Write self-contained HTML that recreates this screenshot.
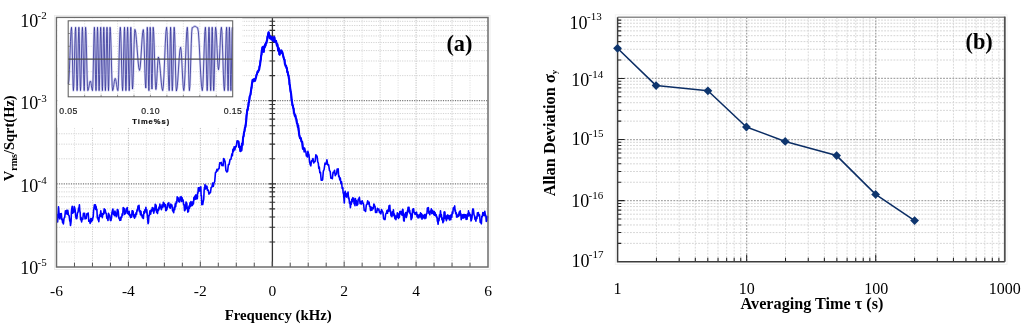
<!DOCTYPE html>
<html><head><meta charset="utf-8"><title>Figure</title>
<style>html,body{margin:0;padding:0;background:#fff;width:1024px;height:325px;overflow:hidden}svg{display:block;will-change:transform}</style>
</head><body>
<svg width="1024" height="325" viewBox="0 0 1024 325">
<rect width="1024" height="325" fill="#fff"/>
<rect x="54.5" y="15.5" width="435.5" height="254" fill="none" stroke="#ececec" stroke-width="1"/>
<path d="M128.42 17.5V267M200.33 17.5V267M344.17 17.5V267M416.08 17.5V267" stroke="#bcbcbc" stroke-width="1" stroke-dasharray="1.2 1.2" fill="none"/>
<path d="M92.46 17.5V267M164.38 17.5V267M236.29 17.5V267M308.21 17.5V267M380.12 17.5V267M452.04 17.5V267" stroke="#cecece" stroke-width="1" stroke-dasharray="1.2 1.2" fill="none"/>
<path d="M74.48 17.5V267M110.44 17.5V267M146.4 17.5V267M182.35 17.5V267M218.31 17.5V267M254.27 17.5V267M290.23 17.5V267M326.19 17.5V267M362.15 17.5V267M398.1 17.5V267M434.06 17.5V267M470.02 17.5V267" stroke="#e0e0e0" stroke-width="1" stroke-dasharray="1.2 1.2" fill="none"/>
<path d="M56.5 75.63H488M56.5 60.99H488M56.5 50.6H488M56.5 42.54H488M56.5 35.95H488M56.5 30.38H488M56.5 25.56H488M56.5 21.31H488M56.5 158.8H488M56.5 144.15H488M56.5 133.76H488M56.5 125.7H488M56.5 119.12H488M56.5 113.55H488M56.5 108.73H488M56.5 104.47H488M56.5 241.96H488M56.5 227.32H488M56.5 216.93H488M56.5 208.87H488M56.5 202.28H488M56.5 196.72H488M56.5 191.89H488M56.5 187.64H488" stroke="#d3d3d3" stroke-width="1" stroke-dasharray="1.2 1.2" fill="none"/>
<path d="M56.5 100.67H488M56.5 183.83H488" stroke="#7a7a7a" stroke-width="1.4" stroke-dasharray="1.2 1.2" fill="none"/>
<path d="M272.4 17.5V267" stroke="#333" stroke-width="1.3"/>
<path d="M269.4 75.63H275M269.4 60.99H275M269.4 50.6H275M269.4 42.54H275M269.4 35.95H275M269.4 30.38H275M269.4 25.56H275M269.4 21.31H275M269.4 158.8H275M269.4 144.15H275M269.4 133.76H275M269.4 125.7H275M269.4 119.12H275M269.4 113.55H275M269.4 108.73H275M269.4 104.47H275M269.4 241.96H275M269.4 227.32H275M269.4 216.93H275M269.4 208.87H275M269.4 202.28H275M269.4 196.72H275M269.4 191.89H275M269.4 187.64H275M268.9 17.5H275.9M268.9 100.67H275.9M268.9 183.83H275.9" stroke="#333" stroke-width="1.1"/>
<path d="M74.48 267v-4.3M92.46 267v-4.3M110.44 267v-4.3M128.42 267v-5.5M146.4 267v-4.3M164.38 267v-4.3M182.35 267v-4.3M200.33 267v-5.5M218.31 267v-4.3M236.29 267v-4.3M254.27 267v-4.3M272.25 267v-5.5M290.23 267v-4.3M308.21 267v-4.3M326.19 267v-4.3M344.17 267v-5.5M362.15 267v-4.3M380.12 267v-4.3M398.1 267v-4.3M416.08 267v-5.5M434.06 267v-4.3M452.04 267v-4.3M470.02 267v-4.3" stroke="#555" stroke-width="1"/>
<path d="M56.5 214.5 L57 214.7 L57.6 222 L58.5 206.9 L59.4 217.7 L59.9 218.84 L60.4 213.82 L60.9 215.2 L61.33 213.44 L61.77 219.74 L62.2 219 L62.6 222.76 L63 220.06 L63.4 224 L64.07 218.23 L64.73 217.31 L65.4 210.8 L66.3 213.7 L66.8 210.2 L67.3 214.17 L67.8 210.3 L68.47 215.07 L69.13 215.86 L69.8 221.1 L70.13 220.77 L70.47 225.54 L70.8 223.6 L71.1 221.18 L71.4 212.68 L71.7 208.8 L72.2 206.31 L72.7 213.25 L73.2 210.8 L73.7 212.22 L74.2 206.46 L74.7 207.8 L75.2 210.12 L75.7 216.06 L76.2 218.7 L76.83 218.54 L77.47 213.01 L78.1 211.8 L78.53 208.11 L78.97 208.7 L79.4 204.9 L79.8 210.86 L80.2 212.77 L80.6 219.7 L81.1 217.42 L81.6 221.88 L82.1 218.7 L82.77 219.32 L83.43 213.31 L84.1 214.2 L84.57 213.29 L85.03 218.98 L85.5 217.7 L86.17 218.52 L86.83 213.78 L87.5 214.2 L88.17 212.97 L88.83 221.32 L89.5 220.1 L90.13 223.44 L90.77 218.55 L91.4 221.6 L91.9 218.63 L92.4 220.47 L92.9 217.7 L93.23 216.34 L93.57 210.65 L93.9 208.8 L94.4 204.82 L94.9 208.06 L95.4 204.9 L95.73 209.39 L96.07 206.34 L96.4 209.8 L96.87 209.33 L97.33 217.92 L97.8 217.7 L98.13 219.96 L98.47 218.87 L98.8 221.6 L99.47 215 L100.13 216.41 L100.8 210.8 L101.3 216.26 L101.8 213.55 L102.3 217.7 L102.93 213.61 L103.57 214.14 L104.2 208.8 L104.7 212.84 L105.2 209.9 L105.7 212.8 L106.3 213.58 L106.9 218.37 L107.5 218.6 L108 220.42 L108.5 213.34 L109 214.7 L109.63 215.44 L110.27 220.15 L110.9 220.6 L111.4 218.52 L111.9 212.97 L112.4 210.8 L112.9 209.02 L113.4 214.09 L113.9 213.7 L114.4 215.58 L114.9 211.07 L115.4 212.7 L116.3 216.7 L116.8 215.79 L117.3 209.5 L117.8 209.8 L118.3 211.48 L118.8 218.07 L119.3 218.6 L119.8 220.32 L120.3 217.7 L120.8 220.1 L121.27 216.53 L121.73 217.4 L122.2 213.7 L122.7 215.2 L123.2 207.67 L123.7 208.8 L124.2 208.46 L124.7 214.34 L125.2 212.7 L125.7 213.17 L126.2 208.92 L126.7 209.8 L127.17 207.56 L127.63 213.46 L128.1 211.7 L128.6 214.22 L129.1 211.19 L129.6 215.7 L130.1 214.43 L130.6 217.57 L131.1 216.2 L131.6 217.09 L132.1 210.9 L132.6 210.8 L133.1 211.31 L133.6 216.19 L134.1 217.2 L134.57 218.2 L135.03 214.6 L135.5 216.7 L136 212.9 L136.5 214.41 L137 209.8 L137.5 210.76 L138 206.16 L138.5 207.3 L139 205.36 L139.5 211.68 L140 210.8 L140.47 214.68 L140.93 211.17 L141.4 215.7 L141.9 214.66 L142.4 217.67 L142.9 216.7 L143.4 218.53 L143.9 211.57 L144.4 213.2 L144.9 209.71 L145.4 210.65 L145.9 207.3 L146.37 212.72 L146.83 209.83 L147.3 215.7 L148.1 223.6 L148.5 222.37 L148.9 215.25 L149.3 215.7 L149.97 210.8 L150.63 214.08 L151.3 209.8 L151.8 211.2 L152.3 207.61 L152.8 208.3 L153.27 208.09 L153.73 213.08 L154.2 210.8 L154.7 210.33 L155.2 204.33 L155.7 204.9 L156.13 205.56 L156.57 212.11 L157 211.5 L157.5 213.46 L158 209.22 L158.5 210.5 L158.97 207.01 L159.43 208.81 L159.9 204.1 L160.4 207.05 L160.9 206.3 L161.4 209.6 L162.07 204.92 L162.73 207.54 L163.4 202.2 L163.9 206 L164.4 203.55 L164.9 206.6 L165.37 204.89 L165.83 210.62 L166.3 210.5 L166.97 209.06 L167.63 204.07 L168.3 203.2 L168.8 202.71 L169.3 207.23 L169.8 207.6 L170.3 208.12 L170.8 204.15 L171.3 205.1 L171.93 204.99 L172.57 210.62 L173.2 211.5 L173.7 212.64 L174.2 207.28 L174.7 209.6 L175.2 203.81 L175.7 206.76 L176.2 201.7 L176.7 202.88 L177.2 196.76 L177.7 197.7 L178.17 197.76 L178.63 201.41 L179.1 201.7 L179.6 202.03 L180.1 197.37 L180.6 199.7 L181.1 196.5 L181.6 201.48 L182.1 197.7 L182.6 201.01 L183.1 199.91 L183.6 204.6 L184.07 204.36 L184.53 210.8 L185 210 L185.5 209.24 L186 201.93 L186.5 202.7 L186.83 203.54 L187.17 208.82 L187.5 208.6 L187.83 212.18 L188.17 207.56 L188.5 211.5 L189 205.96 L189.5 208.17 L190 202.7 L190.47 206.4 L190.93 201.62 L191.4 205.6 L191.9 202.55 L192.4 205.49 L192.9 201.7 L193.4 204.01 L193.9 197.46 L194.4 199.7 L194.9 196.17 L195.4 199.16 L195.9 194.8 L196.37 198.99 L196.83 195.16 L197.3 198.7 L197.63 192.74 L197.97 193.32 L198.3 187.9 L198.8 191.17 L199.3 187.58 L199.8 190.9 L200.13 188.43 L200.47 190.63 L200.8 186.9 L201.13 195.99 L201.47 195.77 L201.8 204.6 L202.27 201.04 L202.73 204.5 L203.2 201.7 L203.7 199.37 L204.2 189.57 L204.7 186.9 L205.03 184.62 L205.37 189.07 L205.7 185.9 L206.3 188.51 L206.9 186.19 L207.5 190.3 L208.23 190.01 L208.97 194.07 L209.7 192.5 L210.43 192.74 L211.17 187.42 L211.9 187.1 L212.6 183.14 L213.3 186.31 L214 182.8 L214.73 181.54 L215.47 172.58 L216.2 172 L216.9 169.4 L217.6 170.85 L218.3 168.8 L219.03 168.63 L219.77 162.72 L220.5 163.4 L221.2 162.35 L221.9 165.47 L222.6 164.5 L223.1 165.69 L223.6 158.46 L224.1 159.1 L225.03 161.45 L225.97 170.66 L226.9 172 L227.63 171.19 L228.37 164.55 L229.1 164.5 L230.03 159.5 L230.97 159.23 L231.9 153.7 L232.4 155.77 L232.9 149.29 L233.4 151.6 L234.13 146.87 L234.87 149.82 L235.6 146.2 L236.3 146.67 L237 140.93 L237.7 140.8 L238.43 141.67 L239.17 147.14 L239.9 147.2 L240.4 151.14 L240.9 146.54 L241.4 150.5 L241.97 143.61 L242.53 144.92 L243.1 137.5 L243.57 136.12 L244.03 132.5 L244.5 131 L244.93 127.65 L245.37 127.05 L245.8 123.9 L246.17 121.02 L246.53 115.76 L246.9 113.1 L247.27 109.89 L247.63 110.07 L248 107 L248.33 106.27 L248.67 102.45 L249 102.3 L249.73 96.42 L250.47 94.69 L251.2 89.4 L251.57 87.5 L251.93 83.95 L252.3 82 L252.63 79.78 L252.97 80.99 L253.3 79.7 L253.7 81.24 L254.1 79.11 L254.5 80.5 L254.83 79.04 L255.17 80.6 L255.5 78.6 L256 77.57 L256.5 74.9 L257 74 L257.57 71.68 L258.13 71.84 L258.7 70 L259.13 69.88 L259.57 66.19 L260 65.4 L260.4 61.46 L260.8 59.33 L261.2 55.5 L261.5 54.65 L261.8 50.45 L262.1 49.4 L262.43 47.38 L262.77 48.95 L263.1 46.9 L263.7 51.8 L264.3 46.3 L264.7 47.48 L265.1 44.35 L265.5 45.7 L265.93 42.82 L266.37 43.14 L266.8 40.8 L267.13 40.15 L267.47 36.79 L267.8 35.8 L268.6 32.2 L269.2 34.6 L269.8 38.3 L270.5 36.5 L271.4 39.5 L271.7 39.39 L272 37.29 L272.3 37.7 L273.2 40.8 L273.53 40.85 L273.87 37.65 L274.2 37.1 L274.5 37.95 L274.8 41.23 L275.1 42 L276 40.8 L276.6 43.8 L276.93 45.69 L277.27 44 L277.6 45.7 L278.2 50.6 L278.8 48.2 L279.4 54.3 L279.7 54.63 L280 51.31 L280.3 51.8 L280.7 50.48 L281.1 52.37 L281.5 50.6 L281.83 52.93 L282.17 51.69 L282.5 53.1 L283.4 56.8 L284.2 59.8 L284.53 59.74 L284.87 64.02 L285.2 64.2 L285.63 66.09 L286.07 65.75 L286.5 68 L286.9 68.12 L287.3 72.1 L287.7 71.9 L288.1 75.04 L288.5 75.25 L288.9 78.6 L289.2 79.27 L289.5 84.24 L289.8 85 L290.6 91.6 L291.1 93.63 L291.6 99.73 L292.1 102.3 L292.47 105.41 L292.83 105.39 L293.2 108 L293.57 108.41 L293.93 112.8 L294.3 113.1 L294.8 115.93 L295.3 115.08 L295.8 118 L296.37 119.25 L296.93 123.42 L297.5 123.9 L297.83 127.18 L298.17 125.73 L298.5 129 L299.3 135 L300.03 138.25 L300.77 137.97 L301.5 141.5 L302.2 141.96 L302.9 148.77 L303.6 147.9 L304.17 151.88 L304.73 148.36 L305.3 151.2 L305.83 151.49 L306.37 156.01 L306.9 155.5 L307.4 156.96 L307.9 151.35 L308.4 153.3 L308.97 154.85 L309.53 161.52 L310.1 164.1 L310.8 165.81 L311.5 160.86 L312.2 160.9 L312.93 158.48 L313.67 162.91 L314.4 161.9 L315.13 161.48 L315.87 154.91 L316.6 155.5 L317.17 156.73 L317.73 161.79 L318.3 163 L318.8 168.35 L319.3 166.89 L319.8 172.7 L320.5 172.39 L321.2 180.27 L321.9 180.3 L322.63 179.78 L323.37 171.04 L324.1 169.5 L325.03 163.18 L325.97 164.19 L326.9 159.8 L327.77 164.86 L328.63 164.86 L329.5 170.6 L330.2 171.49 L330.9 178.19 L331.6 178.1 L332.33 178.69 L333.07 172.37 L333.8 172.7 L334.53 170.22 L335.27 175.65 L336 173.8 L336.57 174.02 L337.13 169.12 L337.7 169.5 L338.2 168.81 L338.7 176.81 L339.2 176 L339.77 179.93 L340.33 178.13 L340.9 183.5 L341.53 181.74 L342.17 188.37 L342.8 187.6 L343.17 193.31 L343.53 193.12 L343.9 198 L344.3 202.9 L344.8 192.5 L345.27 191.24 L345.73 196.39 L346.2 195.2 L346.67 197.08 L347.13 193.31 L347.6 193.9 L348.07 192.14 L348.53 198.75 L349 198 L349.47 203.09 L349.93 201.71 L350.4 207.7 L350.87 202.71 L351.33 204.23 L351.8 199.4 L352.27 201.67 L352.73 197.83 L353.2 198.7 L353.63 198.13 L354.07 203.79 L354.5 203.5 L354.97 205.7 L355.43 198.67 L355.9 200.8 L356.37 200.6 L356.83 205.55 L357.3 204.9 L357.77 204.31 L358.23 199.3 L358.7 199.4 L359.4 197.31 L360.1 203.78 L360.8 201.5 L361.5 203.99 L362.2 200.76 L362.9 202.9 L363.57 204.04 L364.23 210.31 L364.9 210.5 L365.6 211.43 L366.3 205.05 L367 204.2 L367.7 200.83 L368.4 203.88 L369.1 202.2 L369.57 206.36 L370.03 206.26 L370.5 210.5 L371.17 207.07 L371.83 210.31 L372.5 207.7 L373.2 208.76 L373.9 203.95 L374.6 205.6 L375.07 206.51 L375.53 212.4 L376 211.9 L376.7 212.44 L377.4 208.4 L378.1 209.8 L378.8 208.98 L379.5 212.6 L380.2 211.9 L380.87 213.81 L381.53 209.49 L382.2 211.2 L382.9 212.17 L383.6 218.62 L384.3 219.5 L385 219.55 L385.7 213.98 L386.4 213.2 L386.93 210.65 L387.47 213.31 L388 209.8 L388.5 211.22 L389 205.72 L389.5 206.9 L389.83 205.33 L390.17 211.83 L390.5 210.8 L390.97 215.65 L391.43 213.25 L391.9 216.7 L392.4 211.78 L392.9 214.88 L393.4 209.8 L393.9 215.75 L394.4 214.07 L394.9 218.7 L395.4 216.03 L395.9 219.73 L396.4 215.7 L396.87 217.32 L397.33 212.84 L397.8 216.2 L398.13 213.75 L398.47 218.46 L398.8 217.7 L399.3 217.4 L399.8 211.51 L400.3 212.3 L400.8 211.23 L401.3 214.41 L401.8 213.7 L402.2 215.22 L402.6 209.2 L403 209.8 L403.7 220.6 L404.2 221.03 L404.7 214.76 L405.2 213.7 L405.7 212.5 L406.2 217.53 L406.7 215.7 L407.03 215.07 L407.37 211.02 L407.7 210.8 L408.13 207.18 L408.57 211.53 L409 207.4 L409.37 212.63 L409.73 210.38 L410.1 213.7 L410.6 213.27 L411.1 219.69 L411.6 218.7 L412.1 217.49 L412.6 209.6 L413.1 208.8 L413.6 208.75 L414.1 212.58 L414.6 212.8 L415.1 214.46 L415.6 212.69 L416.1 214.2 L416.57 212.17 L417.03 216.65 L417.5 214.7 L418 217.93 L418.5 215.41 L419 217.7 L419.5 214.69 L420 215.85 L420.5 212.8 L421 217.78 L421.5 213.89 L422 219.2 L422.47 215 L422.93 218.04 L423.4 215.7 L423.9 217.8 L424.4 214.61 L424.9 218.7 L425.4 215.04 L425.9 218.04 L426.4 213.7 L426.9 213.59 L427.4 208.09 L427.9 208.3 L428.37 207.69 L428.83 213.22 L429.3 212.8 L429.8 214.77 L430.3 211.14 L430.8 211.8 L431.3 208.77 L431.8 213.65 L432.3 210.3 L432.8 213.13 L433.3 211.26 L433.8 214.7 L434.27 211.45 L434.73 215.3 L435.2 212.8 L435.7 215.83 L436.2 214.74 L436.7 217.7 L437.03 216.89 L437.37 221.29 L437.7 221.6 L438.13 224.26 L438.57 218.24 L439 220.7 L439.5 214.86 L440 216.99 L440.5 210.8 L440.97 216.14 L441.43 214.87 L441.9 219.7 L442.4 217.9 L442.9 222.79 L443.4 221.2 L443.73 221.23 L444.07 212.17 L444.4 211.8 L444.9 212.23 L445.4 218.73 L445.9 217.7 L446.4 220.66 L446.9 215.66 L447.4 218.7 L447.87 214.92 L448.33 218.57 L448.8 215.7 L449.47 220 L450.13 215.44 L450.8 219.7 L451.3 214.55 L451.8 217.11 L452.3 211.8 L452.8 213.47 L453.3 207.93 L453.8 208.8 L454.7 205.9 L455.03 211.11 L455.37 210.05 L455.7 213.8 L456.2 212.71 L456.7 217.08 L457.2 215.7 L457.7 216.85 L458.2 214.28 L458.7 216.2 L459.2 212.01 L459.7 214.96 L460.2 210.8 L460.53 215.25 L460.87 213.66 L461.2 219.7 L461.67 215.58 L462.13 218.08 L462.6 214.7 L463.1 218.14 L463.6 214.46 L464.1 217.7 L464.6 214.55 L465.1 217.53 L465.6 214.7 L466.1 219.4 L466.6 215.3 L467.1 219.2 L467.57 213.87 L468.03 216.27 L468.5 210.8 L469 215.59 L469.5 213.06 L470 215.7 L470.5 214.69 L471 220.98 L471.5 219.7 L472 217.6 L472.5 210.57 L473 208.8 L473.5 210.03 L474 214.8 L474.5 215.7 L474.97 219.33 L475.43 218.19 L475.9 221.2 L476.4 216.88 L476.9 218.59 L477.4 212.8 L477.9 215.96 L478.4 212.64 L478.9 215.7 L479.57 214.87 L480.23 222.53 L480.9 222.6 L481.37 223.82 L481.83 216.28 L482.3 216.7 L482.8 212.63 L483.3 215.23 L483.8 212.8 L484.3 215.73 L484.8 211.41 L485.3 214.7 L485.8 215.47 L486.3 221.41 L486.8 220.2 L487.13 220.68 L487.47 216.52 L487.8 217.7" stroke="#0000ff" stroke-width="1.6" fill="none" stroke-linejoin="round"/>
<path d="M238.43 141.67 L239.17 147.14 L239.9 147.2 L240.4 151.14 L240.9 146.54 L241.4 150.5 L241.97 143.61 L242.53 144.92 L243.1 137.5 L243.57 136.12 L244.03 132.5 L244.5 131 L244.93 127.65 L245.37 127.05 L245.8 123.9 L246.17 121.02 L246.53 115.76 L246.9 113.1 L247.27 109.89 L247.63 110.07 L248 107 L248.33 106.27 L248.67 102.45 L249 102.3 L249.73 96.42 L250.47 94.69 L251.2 89.4 L251.57 87.5 L251.93 83.95 L252.3 82 L252.63 79.78 L252.97 80.99 L253.3 79.7 L253.7 81.24 L254.1 79.11 L254.5 80.5 L254.83 79.04 L255.17 80.6 L255.5 78.6 L256 77.57 L256.5 74.9 L257 74 L257.57 71.68 L258.13 71.84 L258.7 70 L259.13 69.88 L259.57 66.19 L260 65.4 L260.4 61.46 L260.8 59.33 L261.2 55.5 L261.5 54.65 L261.8 50.45 L262.1 49.4 L262.43 47.38 L262.77 48.95 L263.1 46.9 L263.7 51.8 L264.3 46.3 L264.7 47.48 L265.1 44.35 L265.5 45.7 L265.93 42.82 L266.37 43.14 L266.8 40.8 L267.13 40.15 L267.47 36.79 L267.8 35.8 L268.6 32.2 L269.2 34.6 L269.8 38.3 L270.5 36.5 L271.4 39.5 L271.7 39.39 L272 37.29 L272.3 37.7 L273.2 40.8 L273.53 40.85 L273.87 37.65 L274.2 37.1 L274.5 37.95 L274.8 41.23 L275.1 42 L276 40.8 L276.6 43.8 L276.93 45.69 L277.27 44 L277.6 45.7 L278.2 50.6 L278.8 48.2 L279.4 54.3 L279.7 54.63 L280 51.31 L280.3 51.8 L280.7 50.48 L281.1 52.37 L281.5 50.6 L281.83 52.93 L282.17 51.69 L282.5 53.1 L283.4 56.8 L284.2 59.8 L284.53 59.74 L284.87 64.02 L285.2 64.2 L285.63 66.09 L286.07 65.75 L286.5 68 L286.9 68.12 L287.3 72.1 L287.7 71.9 L288.1 75.04 L288.5 75.25 L288.9 78.6 L289.2 79.27 L289.5 84.24 L289.8 85 L290.6 91.6 L291.1 93.63 L291.6 99.73 L292.1 102.3 L292.47 105.41 L292.83 105.39 L293.2 108 L293.57 108.41 L293.93 112.8 L294.3 113.1 L294.8 115.93 L295.3 115.08 L295.8 118 L296.37 119.25 L296.93 123.42 L297.5 123.9 L297.83 127.18 L298.17 125.73 L298.5 129 L299.3 135 L300.03 138.25 L300.77 137.97 L301.5 141.5 L302.2 141.96 L302.9 148.77 L303.6 147.9" stroke="#0000ff" stroke-width="2.1" fill="none" stroke-linejoin="round" stroke-linecap="round"/>
<rect x="56.5" y="17.5" width="431.5" height="249.5" fill="none" stroke="#6c6c6c" stroke-width="1.5"/>
<rect x="57.4" y="18.3" width="184.9" height="109.2" fill="#fff"/>
<path d="M84.65 20.8V96.8M101.1 20.8V96.8M117.55 20.8V96.8M134 20.8V96.8M150.45 20.8V96.8M166.9 20.8V96.8M183.35 20.8V96.8M199.8 20.8V96.8M216.25 20.8V96.8M68.2 33.5H232.7M68.2 46.3H232.7M68.2 71.7H232.7M68.2 84.4H232.7" stroke="#d0d0d0" stroke-width="0.8" stroke-dasharray="1 1.5" fill="none"/>
<path d="M68.4 84 L68.92 80.2 L69.43 69.83 L69.95 55.65 L70.47 41.48 L70.98 31.1 L71.5 27.3 L71.82 31.54 L72.13 43.12 L72.45 58.95 L72.77 74.77 L73.08 86.36 L73.4 90.6 L73.77 86.36 L74.13 74.78 L74.5 58.95 L74.87 43.12 L75.23 31.54 L75.6 27.3 L75.85 31.54 L76.1 43.12 L76.35 58.95 L76.6 74.77 L76.85 86.36 L77.1 90.6 L77.4 86.36 L77.7 74.78 L78 58.95 L78.3 43.12 L78.6 31.54 L78.9 27.3 L79.17 31.54 L79.43 43.12 L79.7 58.95 L79.97 74.77 L80.23 86.36 L80.5 90.6 L80.82 86.36 L81.13 74.78 L81.45 58.95 L81.77 43.12 L82.08 31.54 L82.4 27.3 L82.7 31.54 L83 43.12 L83.3 58.95 L83.6 74.77 L83.9 86.36 L84.2 90.6 L84.43 86.36 L84.67 74.78 L84.9 58.95 L85.13 43.12 L85.37 31.54 L85.6 27.3 L85.97 31.54 L86.33 43.12 L86.7 58.95 L87.07 74.77 L87.43 86.36 L87.8 90.6 L88.23 89.96 L88.67 88.2 L89.1 85.8 L89.53 83.4 L89.97 81.64 L90.4 81 L90.75 81.64 L91.1 83.4 L91.45 85.8 L91.8 88.2 L92.15 89.96 L92.5 90.6 L92.82 86.36 L93.13 74.78 L93.45 58.95 L93.77 43.12 L94.08 31.54 L94.4 27.3 L94.67 31.54 L94.93 43.12 L95.2 58.95 L95.47 74.77 L95.73 86.36 L96 90.6 L96.25 86.36 L96.5 74.78 L96.75 58.95 L97 43.12 L97.25 31.54 L97.5 27.3 L97.77 31.54 L98.03 43.12 L98.3 58.95 L98.57 74.77 L98.83 86.36 L99.1 90.6 L99.37 86.36 L99.63 74.78 L99.9 58.95 L100.17 43.12 L100.43 31.54 L100.7 27.3 L100.98 31.54 L101.27 43.12 L101.55 58.95 L101.83 74.77 L102.12 86.36 L102.4 90.6 L102.63 86.36 L102.87 74.78 L103.1 58.95 L103.33 43.12 L103.57 31.54 L103.8 27.3 L104.07 31.54 L104.33 43.12 L104.6 58.95 L104.87 74.77 L105.13 86.36 L105.4 90.6 L105.67 86.36 L105.93 74.78 L106.2 58.95 L106.47 43.12 L106.73 31.54 L107 27.3 L107.25 31.54 L107.5 43.12 L107.75 58.95 L108 74.77 L108.25 86.36 L108.5 90.6 L108.77 86.36 L109.03 74.78 L109.3 58.95 L109.57 43.12 L109.83 31.54 L110.1 27.3 L110.52 31.54 L110.93 43.12 L111.35 58.95 L111.77 74.77 L112.18 86.36 L112.6 90.6 L113.03 89.78 L113.47 87.55 L113.9 84.5 L114.33 81.45 L114.77 79.22 L115.2 78.4 L115.65 79.22 L116.1 81.45 L116.55 84.5 L117 87.55 L117.45 89.78 L117.9 90.6 L118.3 86.36 L118.7 74.78 L119.1 58.95 L119.5 43.12 L119.9 31.54 L120.3 27.3 L120.68 31.54 L121.07 43.12 L121.45 58.95 L121.83 74.77 L122.22 86.36 L122.6 90.6 L122.92 86.36 L123.23 74.78 L123.55 58.95 L123.87 43.12 L124.18 31.54 L124.5 27.3 L124.73 31.54 L124.97 43.12 L125.2 58.95 L125.43 74.77 L125.67 86.36 L125.9 90.6 L126.18 86.36 L126.47 74.78 L126.75 58.95 L127.03 43.12 L127.32 31.54 L127.6 27.3 L127.87 31.54 L128.13 43.12 L128.4 58.95 L128.67 74.77 L128.93 86.36 L129.2 90.6 L129.47 86.36 L129.73 74.78 L130 58.95 L130.27 43.12 L130.53 31.54 L130.8 27.3 L131.08 31.43 L131.37 42.72 L131.65 58.15 L131.93 73.58 L132.22 84.87 L132.5 89 L132.9 85.01 L133.3 74.1 L133.7 59.2 L134.1 44.3 L134.5 33.39 L134.9 29.4 L135.67 32.15 L136.43 39.65 L137.2 49.9 L137.97 60.15 L138.73 67.65 L139.5 70.4 L140.13 67.67 L140.77 60.2 L141.4 50 L142.03 39.8 L142.67 32.33 L143.3 29.6 L143.72 33.51 L144.13 44.2 L144.55 58.8 L144.97 73.4 L145.38 84.09 L145.8 88 L146.05 83.93 L146.3 72.83 L146.55 57.65 L146.8 42.48 L147.05 31.37 L147.3 27.3 L147.57 31.54 L147.83 43.12 L148.1 58.95 L148.37 74.77 L148.63 86.36 L148.9 90.6 L149.12 86.36 L149.33 74.78 L149.55 58.95 L149.77 43.12 L149.98 31.54 L150.2 27.3 L150.5 31.43 L150.8 42.72 L151.1 58.15 L151.4 73.58 L151.7 84.87 L152 89 L152.2 84.87 L152.4 73.58 L152.6 58.15 L152.8 42.73 L153 31.43 L153.2 27.3 L153.65 31.47 L154.1 42.85 L154.55 58.4 L155 73.95 L155.45 85.33 L155.9 89.5 L156.32 87.32 L156.73 81.38 L157.15 73.25 L157.57 65.12 L157.98 59.18 L158.4 57 L159.12 59.25 L159.83 65.4 L160.55 73.8 L161.27 82.2 L161.98 88.35 L162.7 90.6 L163.35 86.36 L164 74.78 L164.65 58.95 L165.3 43.12 L165.95 31.54 L166.6 27.3 L167.03 31.54 L167.47 43.12 L167.9 58.95 L168.33 74.77 L168.77 86.36 L169.2 90.6 L169.43 86.36 L169.67 74.78 L169.9 58.95 L170.13 43.12 L170.37 31.54 L170.6 27.3 L170.88 31.54 L171.17 43.12 L171.45 58.95 L171.73 74.77 L172.02 86.36 L172.3 90.6 L172.62 86.36 L172.93 74.78 L173.25 58.95 L173.57 43.12 L173.88 31.54 L174.2 27.3 L174.57 31.57 L174.93 43.22 L175.3 59.15 L175.67 75.08 L176.03 86.73 L176.4 91 L177.1 88.07 L177.8 80.05 L178.5 69.1 L179.2 58.15 L179.9 50.13 L180.6 47.2 L181.13 50.11 L181.67 58.05 L182.2 68.9 L182.73 79.75 L183.27 87.69 L183.8 90.6 L184.38 86.36 L184.97 74.78 L185.55 58.95 L186.13 43.12 L186.72 31.54 L187.3 27.3 L187.65 31.54 L188 43.12 L188.35 58.95 L188.7 74.77 L189.05 86.36 L189.4 90.6 L189.87 86.38 L190.33 74.85 L190.8 59.1 L191.27 43.35 L191.73 31.82 L192.2 27.6 L192.65 27.51 L193.1 27.28 L193.55 26.95 L194 26.62 L194.45 26.39 L194.9 26.3 L195.35 26.39 L195.8 26.62 L196.25 26.95 L196.7 27.28 L197.15 27.51 L197.6 27.6 L198.38 31.82 L199.17 43.35 L199.95 59.1 L200.73 74.85 L201.52 86.38 L202.3 90.6 L202.82 86.36 L203.33 74.78 L203.85 58.95 L204.37 43.12 L204.88 31.54 L205.4 27.3 L205.7 31.54 L206 43.12 L206.3 58.95 L206.6 74.77 L206.9 86.36 L207.2 90.6 L207.5 86.36 L207.8 74.78 L208.1 58.95 L208.4 43.12 L208.7 31.54 L209 27.3 L209.28 31.54 L209.57 43.12 L209.85 58.95 L210.13 74.77 L210.42 86.36 L210.7 90.6 L210.95 86.36 L211.2 74.78 L211.45 58.95 L211.7 43.12 L211.95 31.54 L212.2 27.3 L212.45 31.54 L212.7 43.12 L212.95 58.95 L213.2 74.77 L213.45 86.36 L213.7 90.6 L214.02 86.36 L214.33 74.78 L214.65 58.95 L214.97 43.12 L215.28 31.54 L215.6 27.3 L216.08 30.14 L216.57 37.9 L217.05 48.5 L217.53 59.1 L218.02 66.86 L218.5 69.7 L218.98 66.86 L219.47 59.1 L219.95 48.5 L220.43 37.9 L220.92 30.14 L221.4 27.3 L221.9 31.54 L222.4 43.12 L222.9 58.95 L223.4 74.77 L223.9 86.36 L224.4 90.6 L224.77 86.36 L225.13 74.78 L225.5 58.95 L225.87 43.12 L226.23 31.54 L226.6 27.3 L226.85 31.54 L227.1 43.12 L227.35 58.95 L227.6 74.77 L227.85 86.36 L228.1 90.6 L228.32 86.36 L228.53 74.78 L228.75 58.95 L228.97 43.12 L229.18 31.54 L229.4 27.3 L229.65 31.54 L229.9 43.12 L230.15 58.95 L230.4 74.77 L230.65 86.36 L230.9 90.6 L231.13 86.36 L231.37 74.78 L231.6 58.95 L231.83 43.12 L232.07 31.54 L232.3 27.3" stroke="#d2d2f0" stroke-width="2.3" fill="none" stroke-linejoin="round"/>
<path d="M68.4 84 L68.92 80.2 L69.43 69.83 L69.95 55.65 L70.47 41.48 L70.98 31.1 L71.5 27.3 L71.82 31.54 L72.13 43.12 L72.45 58.95 L72.77 74.77 L73.08 86.36 L73.4 90.6 L73.77 86.36 L74.13 74.78 L74.5 58.95 L74.87 43.12 L75.23 31.54 L75.6 27.3 L75.85 31.54 L76.1 43.12 L76.35 58.95 L76.6 74.77 L76.85 86.36 L77.1 90.6 L77.4 86.36 L77.7 74.78 L78 58.95 L78.3 43.12 L78.6 31.54 L78.9 27.3 L79.17 31.54 L79.43 43.12 L79.7 58.95 L79.97 74.77 L80.23 86.36 L80.5 90.6 L80.82 86.36 L81.13 74.78 L81.45 58.95 L81.77 43.12 L82.08 31.54 L82.4 27.3 L82.7 31.54 L83 43.12 L83.3 58.95 L83.6 74.77 L83.9 86.36 L84.2 90.6 L84.43 86.36 L84.67 74.78 L84.9 58.95 L85.13 43.12 L85.37 31.54 L85.6 27.3 L85.97 31.54 L86.33 43.12 L86.7 58.95 L87.07 74.77 L87.43 86.36 L87.8 90.6 L88.23 89.96 L88.67 88.2 L89.1 85.8 L89.53 83.4 L89.97 81.64 L90.4 81 L90.75 81.64 L91.1 83.4 L91.45 85.8 L91.8 88.2 L92.15 89.96 L92.5 90.6 L92.82 86.36 L93.13 74.78 L93.45 58.95 L93.77 43.12 L94.08 31.54 L94.4 27.3 L94.67 31.54 L94.93 43.12 L95.2 58.95 L95.47 74.77 L95.73 86.36 L96 90.6 L96.25 86.36 L96.5 74.78 L96.75 58.95 L97 43.12 L97.25 31.54 L97.5 27.3 L97.77 31.54 L98.03 43.12 L98.3 58.95 L98.57 74.77 L98.83 86.36 L99.1 90.6 L99.37 86.36 L99.63 74.78 L99.9 58.95 L100.17 43.12 L100.43 31.54 L100.7 27.3 L100.98 31.54 L101.27 43.12 L101.55 58.95 L101.83 74.77 L102.12 86.36 L102.4 90.6 L102.63 86.36 L102.87 74.78 L103.1 58.95 L103.33 43.12 L103.57 31.54 L103.8 27.3 L104.07 31.54 L104.33 43.12 L104.6 58.95 L104.87 74.77 L105.13 86.36 L105.4 90.6 L105.67 86.36 L105.93 74.78 L106.2 58.95 L106.47 43.12 L106.73 31.54 L107 27.3 L107.25 31.54 L107.5 43.12 L107.75 58.95 L108 74.77 L108.25 86.36 L108.5 90.6 L108.77 86.36 L109.03 74.78 L109.3 58.95 L109.57 43.12 L109.83 31.54 L110.1 27.3 L110.52 31.54 L110.93 43.12 L111.35 58.95 L111.77 74.77 L112.18 86.36 L112.6 90.6 L113.03 89.78 L113.47 87.55 L113.9 84.5 L114.33 81.45 L114.77 79.22 L115.2 78.4 L115.65 79.22 L116.1 81.45 L116.55 84.5 L117 87.55 L117.45 89.78 L117.9 90.6 L118.3 86.36 L118.7 74.78 L119.1 58.95 L119.5 43.12 L119.9 31.54 L120.3 27.3 L120.68 31.54 L121.07 43.12 L121.45 58.95 L121.83 74.77 L122.22 86.36 L122.6 90.6 L122.92 86.36 L123.23 74.78 L123.55 58.95 L123.87 43.12 L124.18 31.54 L124.5 27.3 L124.73 31.54 L124.97 43.12 L125.2 58.95 L125.43 74.77 L125.67 86.36 L125.9 90.6 L126.18 86.36 L126.47 74.78 L126.75 58.95 L127.03 43.12 L127.32 31.54 L127.6 27.3 L127.87 31.54 L128.13 43.12 L128.4 58.95 L128.67 74.77 L128.93 86.36 L129.2 90.6 L129.47 86.36 L129.73 74.78 L130 58.95 L130.27 43.12 L130.53 31.54 L130.8 27.3 L131.08 31.43 L131.37 42.72 L131.65 58.15 L131.93 73.58 L132.22 84.87 L132.5 89 L132.9 85.01 L133.3 74.1 L133.7 59.2 L134.1 44.3 L134.5 33.39 L134.9 29.4 L135.67 32.15 L136.43 39.65 L137.2 49.9 L137.97 60.15 L138.73 67.65 L139.5 70.4 L140.13 67.67 L140.77 60.2 L141.4 50 L142.03 39.8 L142.67 32.33 L143.3 29.6 L143.72 33.51 L144.13 44.2 L144.55 58.8 L144.97 73.4 L145.38 84.09 L145.8 88 L146.05 83.93 L146.3 72.83 L146.55 57.65 L146.8 42.48 L147.05 31.37 L147.3 27.3 L147.57 31.54 L147.83 43.12 L148.1 58.95 L148.37 74.77 L148.63 86.36 L148.9 90.6 L149.12 86.36 L149.33 74.78 L149.55 58.95 L149.77 43.12 L149.98 31.54 L150.2 27.3 L150.5 31.43 L150.8 42.72 L151.1 58.15 L151.4 73.58 L151.7 84.87 L152 89 L152.2 84.87 L152.4 73.58 L152.6 58.15 L152.8 42.73 L153 31.43 L153.2 27.3 L153.65 31.47 L154.1 42.85 L154.55 58.4 L155 73.95 L155.45 85.33 L155.9 89.5 L156.32 87.32 L156.73 81.38 L157.15 73.25 L157.57 65.12 L157.98 59.18 L158.4 57 L159.12 59.25 L159.83 65.4 L160.55 73.8 L161.27 82.2 L161.98 88.35 L162.7 90.6 L163.35 86.36 L164 74.78 L164.65 58.95 L165.3 43.12 L165.95 31.54 L166.6 27.3 L167.03 31.54 L167.47 43.12 L167.9 58.95 L168.33 74.77 L168.77 86.36 L169.2 90.6 L169.43 86.36 L169.67 74.78 L169.9 58.95 L170.13 43.12 L170.37 31.54 L170.6 27.3 L170.88 31.54 L171.17 43.12 L171.45 58.95 L171.73 74.77 L172.02 86.36 L172.3 90.6 L172.62 86.36 L172.93 74.78 L173.25 58.95 L173.57 43.12 L173.88 31.54 L174.2 27.3 L174.57 31.57 L174.93 43.22 L175.3 59.15 L175.67 75.08 L176.03 86.73 L176.4 91 L177.1 88.07 L177.8 80.05 L178.5 69.1 L179.2 58.15 L179.9 50.13 L180.6 47.2 L181.13 50.11 L181.67 58.05 L182.2 68.9 L182.73 79.75 L183.27 87.69 L183.8 90.6 L184.38 86.36 L184.97 74.78 L185.55 58.95 L186.13 43.12 L186.72 31.54 L187.3 27.3 L187.65 31.54 L188 43.12 L188.35 58.95 L188.7 74.77 L189.05 86.36 L189.4 90.6 L189.87 86.38 L190.33 74.85 L190.8 59.1 L191.27 43.35 L191.73 31.82 L192.2 27.6 L192.65 27.51 L193.1 27.28 L193.55 26.95 L194 26.62 L194.45 26.39 L194.9 26.3 L195.35 26.39 L195.8 26.62 L196.25 26.95 L196.7 27.28 L197.15 27.51 L197.6 27.6 L198.38 31.82 L199.17 43.35 L199.95 59.1 L200.73 74.85 L201.52 86.38 L202.3 90.6 L202.82 86.36 L203.33 74.78 L203.85 58.95 L204.37 43.12 L204.88 31.54 L205.4 27.3 L205.7 31.54 L206 43.12 L206.3 58.95 L206.6 74.77 L206.9 86.36 L207.2 90.6 L207.5 86.36 L207.8 74.78 L208.1 58.95 L208.4 43.12 L208.7 31.54 L209 27.3 L209.28 31.54 L209.57 43.12 L209.85 58.95 L210.13 74.77 L210.42 86.36 L210.7 90.6 L210.95 86.36 L211.2 74.78 L211.45 58.95 L211.7 43.12 L211.95 31.54 L212.2 27.3 L212.45 31.54 L212.7 43.12 L212.95 58.95 L213.2 74.77 L213.45 86.36 L213.7 90.6 L214.02 86.36 L214.33 74.78 L214.65 58.95 L214.97 43.12 L215.28 31.54 L215.6 27.3 L216.08 30.14 L216.57 37.9 L217.05 48.5 L217.53 59.1 L218.02 66.86 L218.5 69.7 L218.98 66.86 L219.47 59.1 L219.95 48.5 L220.43 37.9 L220.92 30.14 L221.4 27.3 L221.9 31.54 L222.4 43.12 L222.9 58.95 L223.4 74.77 L223.9 86.36 L224.4 90.6 L224.77 86.36 L225.13 74.78 L225.5 58.95 L225.87 43.12 L226.23 31.54 L226.6 27.3 L226.85 31.54 L227.1 43.12 L227.35 58.95 L227.6 74.77 L227.85 86.36 L228.1 90.6 L228.32 86.36 L228.53 74.78 L228.75 58.95 L228.97 43.12 L229.18 31.54 L229.4 27.3 L229.65 31.54 L229.9 43.12 L230.15 58.95 L230.4 74.77 L230.65 86.36 L230.9 90.6 L231.13 86.36 L231.37 74.78 L231.6 58.95 L231.83 43.12 L232.07 31.54 L232.3 27.3" stroke="#2e2e96" stroke-width="0.8" fill="none"/>
<path d="M68.2 59.1H232.7" stroke="#4a4a4a" stroke-width="1.1"/>
<path d="M84.65 96.8v-2M101.1 96.8v-2M117.55 96.8v-2M134 96.8v-2M150.45 96.8v-2M166.9 96.8v-2M183.35 96.8v-2M199.8 96.8v-2M216.25 96.8v-2M68.2 33.5h2M68.2 46.3h2M68.2 71.7h2M68.2 84.4h2" stroke="#777" stroke-width="0.8"/>
<rect x="68.2" y="20.8" width="164.5" height="76" fill="none" stroke="#606060" stroke-width="1.05"/>
<rect x="615.3" y="14.8" width="391.7" height="249.6" fill="none" stroke="#f2f2f2" stroke-width="1"/>
<path d="M656.45 17.3V261.75M679.18 17.3V261.75M695.31 17.3V261.75M707.81 17.3V261.75M718.03 17.3V261.75M726.67 17.3V261.75M734.16 17.3V261.75M740.76 17.3V261.75M785.52 17.3V261.75M808.25 17.3V261.75M824.37 17.3V261.75M836.88 17.3V261.75M847.1 17.3V261.75M855.74 17.3V261.75M863.23 17.3V261.75M869.83 17.3V261.75M914.59 17.3V261.75M937.31 17.3V261.75M953.44 17.3V261.75M965.95 17.3V261.75M976.17 17.3V261.75M984.81 17.3V261.75M992.29 17.3V261.75M998.89 17.3V261.75" stroke="#d8d8d8" stroke-width="1" stroke-dasharray="1.8 1.3" fill="none"/>
<path d="M617.6 60.02H1004.8M617.6 49.25H1004.8M617.6 41.62H1004.8M617.6 35.7H1004.8M617.6 30.86H1004.8M617.6 26.77H1004.8M617.6 23.22H1004.8M617.6 20.1H1004.8M617.6 121.13H1004.8M617.6 110.37H1004.8M617.6 102.73H1004.8M617.6 96.81H1004.8M617.6 91.97H1004.8M617.6 87.88H1004.8M617.6 84.33H1004.8M617.6 81.21H1004.8M617.6 182.24H1004.8M617.6 171.48H1004.8M617.6 163.84H1004.8M617.6 157.92H1004.8M617.6 153.08H1004.8M617.6 148.99H1004.8M617.6 145.45H1004.8M617.6 142.32H1004.8M617.6 243.35H1004.8M617.6 232.59H1004.8M617.6 224.96H1004.8M617.6 219.03H1004.8M617.6 214.2H1004.8M617.6 210.1H1004.8M617.6 206.56H1004.8M617.6 203.43H1004.8" stroke="#d4d4d4" stroke-width="1" stroke-dasharray="1.8 1.3" fill="none"/>
<path d="M746.67 17.3V261.75M875.73 17.3V261.75M617.6 78.41H1004.8M617.6 139.53H1004.8M617.6 200.64H1004.8" stroke="#a6a6a6" stroke-width="1.3" stroke-dasharray="1.8 1.3" fill="none"/>
<path d="M617.6 60.02h3.6M617.6 49.25h3.6M617.6 41.62h3.6M617.6 35.7h3.6M617.6 30.86h3.6M617.6 26.77h3.6M617.6 23.22h3.6M617.6 20.1h3.6M617.6 121.13h3.6M617.6 110.37h3.6M617.6 102.73h3.6M617.6 96.81h3.6M617.6 91.97h3.6M617.6 87.88h3.6M617.6 84.33h3.6M617.6 81.21h3.6M617.6 182.24h3.6M617.6 171.48h3.6M617.6 163.84h3.6M617.6 157.92h3.6M617.6 153.08h3.6M617.6 148.99h3.6M617.6 145.45h3.6M617.6 142.32h3.6M617.6 243.35h3.6M617.6 232.59h3.6M617.6 224.96h3.6M617.6 219.03h3.6M617.6 214.2h3.6M617.6 210.1h3.6M617.6 206.56h3.6M617.6 203.43h3.6M617.6 78.41h7M617.6 139.53h7M617.6 200.64h7M656.45 261.75v-4M679.18 261.75v-4M695.31 261.75v-4M707.81 261.75v-4M718.03 261.75v-4M726.67 261.75v-4M734.16 261.75v-4M740.76 261.75v-4M785.52 261.75v-4M808.25 261.75v-4M824.37 261.75v-4M836.88 261.75v-4M847.1 261.75v-4M855.74 261.75v-4M863.23 261.75v-4M869.83 261.75v-4M914.59 261.75v-4M937.31 261.75v-4M953.44 261.75v-4M965.95 261.75v-4M976.17 261.75v-4M984.81 261.75v-4M992.29 261.75v-4M998.89 261.75v-4M746.67 261.75v-7M875.73 261.75v-7" stroke="#222" stroke-width="1.05"/>
<path d="M617.6 17.3H1004.8" stroke="#8c8c8c" stroke-width="1.4"/>
<path d="M1004.8 261.75V16.6" stroke="#505050" stroke-width="1.8" fill="none"/>
<path d="M617.6 17.3V261.75H1004.8" stroke="#3c3c3c" stroke-width="1.5" fill="none"/>
<path d="M617.5 48.3 L656.1 85.6 L707.9 90.8 L746.4 127 L785.2 141.4 L836.6 155.6 L875.6 194.4 L914.6 220.6" stroke="#0b2d64" stroke-width="1.55" fill="none" stroke-linejoin="round"/>
<path d="M617.5 43.9L621.9 48.3L617.5 52.7L613.1 48.3Z" fill="#0e356e"/>
<path d="M656.1 81.2L660.5 85.6L656.1 90L651.7 85.6Z" fill="#0e356e"/>
<path d="M707.9 86.4L712.3 90.8L707.9 95.2L703.5 90.8Z" fill="#0e356e"/>
<path d="M746.4 122.6L750.8 127L746.4 131.4L742 127Z" fill="#0e356e"/>
<path d="M785.2 137L789.6 141.4L785.2 145.8L780.8 141.4Z" fill="#0e356e"/>
<path d="M836.6 151.2L841 155.6L836.6 160L832.2 155.6Z" fill="#0e356e"/>
<path d="M875.6 190L880 194.4L875.6 198.8L871.2 194.4Z" fill="#0e356e"/>
<path d="M914.6 216.2L919 220.6L914.6 225L910.2 220.6Z" fill="#0e356e"/>
<g id="txt">
<text x="20.2" y="26.9" font-family="Liberation Serif" font-size="18">10</text>
<text x="37.6" y="19.3" font-family="Liberation Serif" font-size="11">-2</text>
<text x="20.2" y="109.2" font-family="Liberation Serif" font-size="18">10</text>
<text x="37.6" y="101.6" font-family="Liberation Serif" font-size="11">-3</text>
<text x="20.2" y="191.6" font-family="Liberation Serif" font-size="18">10</text>
<text x="37.6" y="184" font-family="Liberation Serif" font-size="11">-4</text>
<text x="20.2" y="273.7" font-family="Liberation Serif" font-size="18">10</text>
<text x="37.6" y="266.1" font-family="Liberation Serif" font-size="11">-5</text>
<text x="56.5" y="296.3" font-family="Liberation Serif" font-size="15.5" text-anchor="middle">-6</text>
<text x="128.42" y="296.3" font-family="Liberation Serif" font-size="15.5" text-anchor="middle">-4</text>
<text x="200.33" y="296.3" font-family="Liberation Serif" font-size="15.5" text-anchor="middle">-2</text>
<text x="272.25" y="296.3" font-family="Liberation Serif" font-size="15.5" text-anchor="middle">0</text>
<text x="344.17" y="296.3" font-family="Liberation Serif" font-size="15.5" text-anchor="middle">2</text>
<text x="416.08" y="296.3" font-family="Liberation Serif" font-size="15.5" text-anchor="middle">4</text>
<text x="488" y="296.3" font-family="Liberation Serif" font-size="15.5" text-anchor="middle">6</text>
<text x="278.2" y="319.8" font-family="Liberation Serif" font-size="14.8" font-weight="bold" text-anchor="middle">Frequency (kHz)</text>
<text x="459.4" y="51.0" font-family="Liberation Serif" font-size="22.3" font-weight="bold" text-anchor="middle">(a)</text>
<text transform="translate(14.1 138.3) rotate(-90)" font-family="Liberation Serif" font-size="14.5" font-weight="bold" text-anchor="middle">V<tspan font-size="10" dy="2.5">rms</tspan><tspan dy="-2.5">/Sqrt(Hz)</tspan></text>
<text x="68.5" y="114.3" font-family="Liberation Sans" font-size="8.7" letter-spacing="0.45" fill="#222" stroke="#222" stroke-width="0.2" text-anchor="middle">0.05</text>
<text x="150.7" y="114.3" font-family="Liberation Sans" font-size="8.7" letter-spacing="0.45" fill="#222" stroke="#222" stroke-width="0.2" text-anchor="middle">0.10</text>
<text x="233.0" y="114.3" font-family="Liberation Sans" font-size="8.7" letter-spacing="0.45" fill="#222" stroke="#222" stroke-width="0.2" text-anchor="middle">0.15</text>
<text x="151.3" y="124.2" font-family="Liberation Sans" font-size="7.5" font-weight="bold" letter-spacing="1.05" fill="#111" stroke="#111" stroke-width="0.2" text-anchor="middle">Time%s)</text>
<text x="569.6" y="28.6" font-family="Liberation Serif" font-size="18">10</text>
<text x="587" y="20" font-family="Liberation Serif" font-size="11">-13</text>
<text x="571.2" y="86.3" font-family="Liberation Serif" font-size="18">10</text>
<text x="588.6" y="77.7" font-family="Liberation Serif" font-size="11">-14</text>
<text x="571.4" y="145.3" font-family="Liberation Serif" font-size="18">10</text>
<text x="588.8" y="136.7" font-family="Liberation Serif" font-size="11">-15</text>
<text x="571.2" y="207.2" font-family="Liberation Serif" font-size="18">10</text>
<text x="588.6" y="198.6" font-family="Liberation Serif" font-size="11">-16</text>
<text x="571.4" y="266.8" font-family="Liberation Serif" font-size="18">10</text>
<text x="588.8" y="258.2" font-family="Liberation Serif" font-size="11">-17</text>
<text x="617.6" y="293.5" font-family="Liberation Serif" font-size="16" text-anchor="middle">1</text>
<text x="746.8" y="293.5" font-family="Liberation Serif" font-size="16" text-anchor="middle">10</text>
<text x="876.2" y="293.5" font-family="Liberation Serif" font-size="16" text-anchor="middle">100</text>
<text x="1004.8" y="293.5" font-family="Liberation Serif" font-size="16" text-anchor="middle">1000</text>
<text x="812" y="308.8" font-family="Liberation Serif" font-size="16.2" font-weight="bold" text-anchor="middle">Averaging Time τ (s)</text>
<text x="979.1" y="48.9" font-family="Liberation Serif" font-size="22.3" font-weight="bold" text-anchor="middle">(b)</text>
<text transform="translate(555 133.1) rotate(-90)" font-family="Liberation Serif" font-size="16.3" font-weight="bold" text-anchor="middle">Allan Deviation σ<tspan font-size="8.5" dy="1.8">y</tspan></text>
</g>
</svg>
</body></html>
